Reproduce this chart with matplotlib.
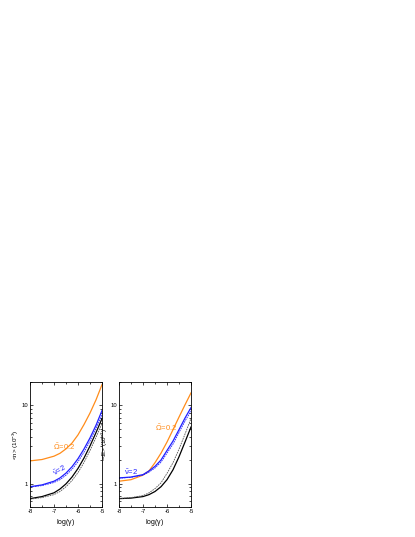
import numpy as np
import matplotlib
matplotlib.use('Agg')
import matplotlib.pyplot as plt
from matplotlib.ticker import FixedLocator, NullFormatter

plt.rcParams['font.family'] = ['Liberation Sans', 'DejaVu Sans']
plt.rcParams['axes.unicode_minus'] = False
plt.rcParams['mathtext.fontset'] = 'custom'
plt.rcParams['mathtext.rm'] = 'Liberation Sans'
plt.rcParams['mathtext.it'] = 'Liberation Sans:italic'
plt.rcParams['mathtext.default'] = 'regular'

# log(gamma) grid
log_gamma = [-8, -7.5, -7, -6.75, -6.5, -6.25, -6, -5.75, -5.5, -5.25, -5]

# panel izquierdo: <n> (10^-3)
n_orange = [1.95, 2.03, 2.24, 2.44, 2.78, 3.3, 4.2, 5.7, 8.0, 11.8, 18.5]
n_blue = [0.91, 0.96, 1.07, 1.18, 1.36, 1.64, 2.08, 2.77, 3.84, 5.58, 8.6]
n_blue_d = [0.90, 0.94, 1.03, 1.12, 1.28, 1.52, 1.90, 2.52, 3.5, 5.1, 7.6]
n_black = [0.64, 0.68, 0.76, 0.85, 0.99, 1.21, 1.56, 2.12, 3.03, 4.49, 6.8]
n_black_d = [0.63, 0.66, 0.72, 0.79, 0.91, 1.09, 1.38, 1.86, 2.65, 3.9, 5.9]

# panel derecho: -<E> (10^-3)
e_orange = [1.07, 1.12, 1.28, 1.45, 1.85, 2.45, 3.4, 4.9, 7.1, 10.2, 14.5]
e_blue = [1.18, 1.21, 1.30, 1.45, 1.66, 2.0, 2.65, 3.5, 4.9, 6.9, 9.4]
e_blue_d = [1.17, 1.20, 1.28, 1.40, 1.58, 1.88, 2.45, 3.2, 4.5, 6.3, 8.5]
e_black = [0.64, 0.65, 0.68, 0.72, 0.79, 0.91, 1.12, 1.5, 2.2, 3.4, 5.3]
e_black_d = [0.64, 0.66, 0.70, 0.76, 0.86, 1.02, 1.35, 1.85, 2.75, 4.3, 6.8]

orange = '#ff8c1a'
blue = '#1f1fff'

fig = plt.figure(figsize=(4.15, 5.37), dpi=100)
ax1 = fig.add_axes([30 / 415, 1 - 507 / 537, 72 / 415, 125 / 537])
ax2 = fig.add_axes([119 / 415, 1 - 507 / 537, 72 / 415, 125 / 537])


def style_axis(ax, ylabel):
    ax.set_yscale('log')
    ax.set_xlim(-8, -5)
    ax.set_ylim(0.5, 20)
    ax.xaxis.set_major_locator(FixedLocator([-8, -7, -6, -5]))
    ax.xaxis.set_minor_locator(FixedLocator([-7.5, -6.5, -5.5]))
    ax.yaxis.set_major_locator(FixedLocator([1, 10]))
    ax.set_yticklabels(['1', '10'])
    ax.yaxis.set_minor_formatter(NullFormatter())
    ax.tick_params(which='both', direction='in', top=True, right=True,
                   labelsize=4.2, width=0.5, pad=1.5)
    ax.tick_params(which='major', length=2.5)
    ax.tick_params(which='minor', length=1.5)
    for s in ax.spines.values():
        s.set_linewidth(0.6)
    ax.set_xlabel(r'log($\gamma$)', fontsize=5, labelpad=2)
    ax.set_ylabel(ylabel, fontsize=4.5, labelpad=0)


def add_curves(ax, o, b, bd, k, kd):
    ax.plot(log_gamma, o, color=orange, lw=0.9)
    ax.plot(log_gamma, b, color=blue, lw=0.9)
    ax.plot(log_gamma, bd, color=blue, lw=0.6, ls=(0, (2, 1)))
    ax.plot(log_gamma, k, color='black', lw=0.9)
    ax.plot(log_gamma, kd, color='#555555', lw=0.6, ls=(0, (2, 1)))


add_curves(ax1, n_orange, n_blue, n_blue_d, n_black, n_black_d)
style_axis(ax1, r'<n> (10$^{-3}$)')
ax1.text(-7.05, 2.7, r'$\tilde{\Omega}$=0.2', color=orange, fontsize=5.5)
ax1.text(-7.1, 1.25, r'$\tilde{\nu}$=2', color=blue, fontsize=5.5, rotation=30)

add_curves(ax2, e_orange, e_blue, e_blue_d, e_black, e_black_d)
style_axis(ax2, r'-<E> (10$^{-3}$)')
ax2.text(-6.5, 4.7, r'$\tilde{\Omega}$=0.2', color=orange, fontsize=5.5)
ax2.text(-7.8, 1.27, r'$\tilde{\nu}$=2', color=blue, fontsize=5.5)

fig.savefig('out.png', dpi=100)
